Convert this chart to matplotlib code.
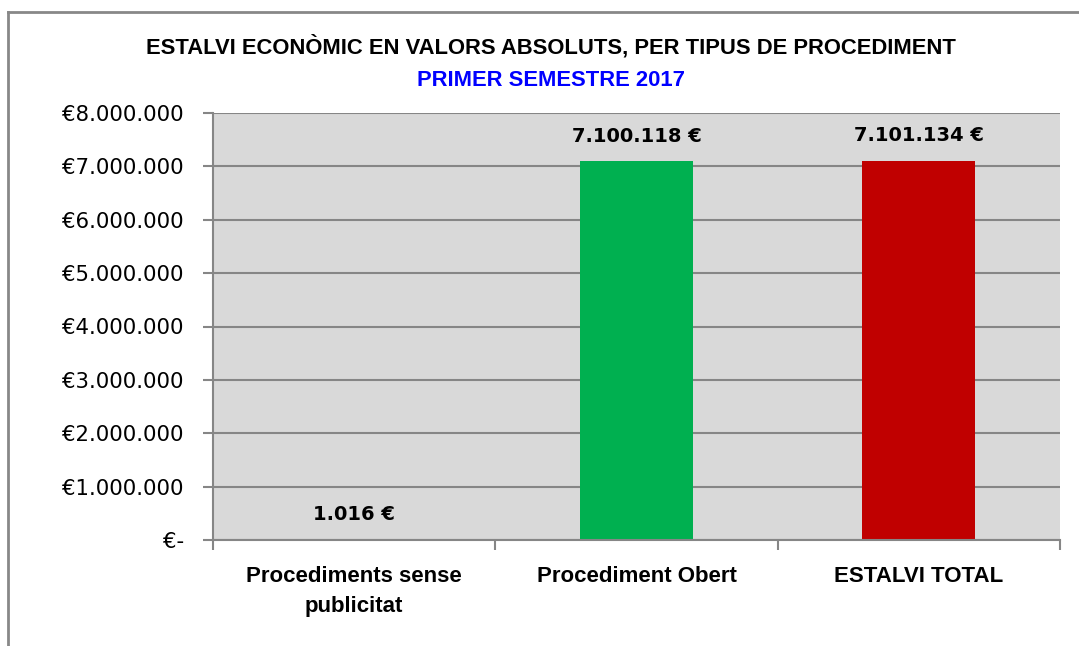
import matplotlib
matplotlib.use("Agg")
import matplotlib.pyplot as plt
from matplotlib.lines import Line2D
from matplotlib import font_manager as fm

categories = ["Procediments sense\npublicitat", "Procediment Obert", "ESTALVI TOTAL"]
values = [1016, 7100118, 7101134]
value_labels = ["1.016 €", "7.100.118 €", "7.101.134 €"]
bar_colors = ["#d9d9d9", "#00b050", "#c00000"]
yticks = [0, 1000000, 2000000, 3000000, 4000000, 5000000, 6000000, 7000000, 8000000]
ytick_labels = ["€-", "€1.000.000", "€2.000.000", "€3.000.000", "€4.000.000",
                "€5.000.000", "€6.000.000", "€7.000.000", "€8.000.000"]
title = "ESTALVI ECONÒMIC EN VALORS ABSOLUTS, PER TIPUS DE PROCEDIMENT"
subtitle = "PRIMER SEMESTRE 2017"

names = {f.name for f in fm.fontManager.ttflist}
narrow = ["Liberation Sans Narrow", "Liberation Sans", "DejaVu Sans"] if "Liberation Sans Narrow" in names else ["Liberation Sans", "DejaVu Sans"]
title_size = 17 if "Liberation Sans Narrow" in names else 15.8

W, H = 1079, 646
fig = plt.figure(figsize=(W / 100, H / 100), dpi=100)
fig.patch.set_facecolor("white")

ax = fig.add_axes([213 / W, 1 - 540 / H, (1060 - 213) / W, (540 - 113) / H])
ax.set_facecolor("#d9d9d9")
x = list(range(len(categories)))
ax.bar(x, values, width=0.4, color=bar_colors, zorder=3)
ax.set_xlim(-0.5, 2.5)
ax.set_ylim(0, 8000000)
ax.set_yticks(yticks)
ax.set_yticklabels(ytick_labels, fontsize=15.3, family="DejaVu Sans", color="#000000")
ax.yaxis.grid(True, color="#868686", linewidth=1.5, zorder=1)
ax.set_axisbelow(True)
for s in ["top", "right", "bottom"]:
    ax.spines[s].set_visible(False)
ax.spines["left"].set_color("#868686")
ax.spines["left"].set_linewidth(1.5)
ax.tick_params(axis="y", length=7, width=1.5, color="#868686", pad=14)

# category labels / ticks
ax.set_xticks([-0.5, 0.5, 1.5, 2.5])
ax.set_xticklabels([])
ax.tick_params(axis="x", length=7, width=1.5, color="#868686")
ax.axhline(0, color="#868686", linewidth=1.5, zorder=4, clip_on=False)
for xi, c in zip(x, categories):
    ax.annotate(c, xy=(xi, 0), xytext=(0, -19), textcoords="offset points",
                ha="center", va="top", fontsize=16, fontweight="bold",
                family=["Liberation Sans", "DejaVu Sans"], linespacing=1.55)

for xi, v, lab in zip(x, values, value_labels):
    ax.annotate(lab, xy=(xi, v), xytext=(0, 18), textcoords="offset points",
                ha="center", va="center", fontsize=14, fontweight="bold",
                family="DejaVu Sans", zorder=5)

fig.text(551 / W, 1 - 47 / H, title, ha="center", va="center", fontsize=title_size,
         fontweight="bold", family=narrow)
fig.text(551 / W, 1 - 80 / H, subtitle, ha="center", va="center", fontsize=title_size,
         fontweight="bold", family=narrow, color="#0000ff")

# outer chart border
fig.add_artist(Line2D([8 / W, 8 / W], [0, 1 - 12 / H], transform=fig.transFigure,
                      color="#888888", linewidth=2))
fig.add_artist(Line2D([8 / W, 1], [1 - 12 / H, 1 - 12 / H], transform=fig.transFigure,
                      color="#888888", linewidth=2))

fig.savefig("out.png", dpi=100)
